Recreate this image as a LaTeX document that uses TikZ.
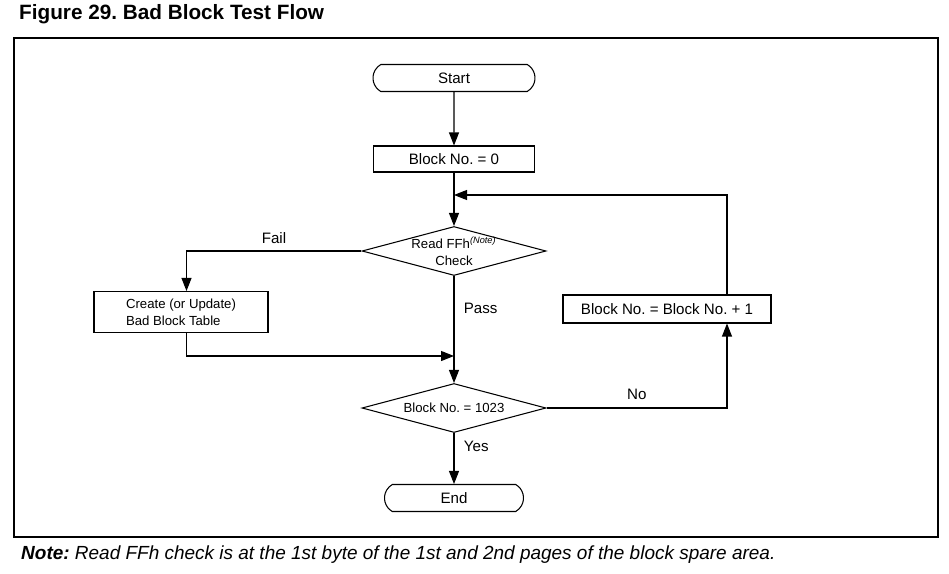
\documentclass[tikz,border=0pt]{standalone}
\usepackage{fontspec}
\setmainfont{Liberation Sans}
\usetikzlibrary{shapes.geometric,shapes.misc,arrows.meta,positioning,calc}
\frenchspacing

\begin{document}
\begin{tikzpicture}[
    x=0.02cm, y=-0.02cm,
    >={Triangle[length=2.6mm,width=2mm]},
    terminal/.style={rounded rectangle, rounded rectangle arc length=120, draw, line width=0.6pt, minimum height=27*0.02cm, inner sep=0pt, font=\fontsize{8.6}{10}\selectfont},
    process/.style={rectangle, draw, line width=0.6pt, inner sep=0pt, font=\fontsize{8.6}{10}\selectfont},
    decision/.style={diamond, draw, line width=0.6pt, inner sep=-4pt, shape aspect=3.7, minimum width=184*0.02cm, minimum height=49*0.02cm, align=center, font=\fontsize{7.5}{9.6}\selectfont},
    flow/.style={->, line width=0.6pt},
    lbl/.style={font=\fontsize{8.6}{10}\selectfont}
]
\useasboundingbox (0,0) rectangle (949,574);

% Title, frame and note
\node[anchor=west, font=\fontsize{11.8}{14}\selectfont\bfseries] (title) at (13,14) {Figure 29. Bad Block Test Flow};
\draw[line width=0.6pt] (14,38) rectangle (938,537);
\node[anchor=west, font=\fontsize{10.8}{12}\selectfont\itshape] (note) at (15,555) {\textbf{Note:} Read FFh check is at the 1st byte of the 1st and 2nd pages of the block spare area.};

% Steps
\node[terminal, minimum width=162*0.02cm] (start) at (454,78) {Start};
\node[process, minimum width=161*0.02cm, minimum height=26*0.02cm] (blk0) at (454,159) {Block No. = 0};
\node[decision] (rd) at (454,251) {Read FFh\textsuperscript{\textit{(Note)}}\\Check};
\node[process, minimum width=174*0.02cm, minimum height=41*0.02cm, align=left, font=\fontsize{7.5}{9.6}\selectfont] (create) at (181,312) {Create (or Update)\\Bad Block Table};
\node[decision] (eq) at (454,408) {Block No. = 1023};
\node[process, minimum width=208*0.02cm, minimum height=28*0.02cm] (inc) at (667,309) {Block No. = Block No. + 1};
\node[terminal, minimum width=139*0.02cm] (end) at (454,498) {End};

% Joins
\coordinate (loopin) at (454,195);
\coordinate (merge) at (454,356);

% Connectors
\draw[flow] (start) -- (blk0);
\draw[flow] (blk0) -- (rd);
\draw[flow] (rd.west) -| ([xshift=1.1mm]create.north) node[lbl, pos=0.25, above=0.3pt] {Fail};
\draw[flow] ([xshift=1.1mm]create.south) |- (merge);
\draw[flow] (rd.south) -- node[lbl, pos=0.3, right=2pt] {Pass} (eq.north);
\draw[flow] (eq.south) -- node[lbl, pos=0.26, right=2pt] {Yes} (end.north);
\draw[flow] (eq.east) -| ([xshift=1.2cm]inc.south) node[lbl, pos=0.25, above=1pt] {No};
\draw[flow] ([xshift=1.2cm]inc.north) |- (loopin);

\end{tikzpicture}
\end{document}
